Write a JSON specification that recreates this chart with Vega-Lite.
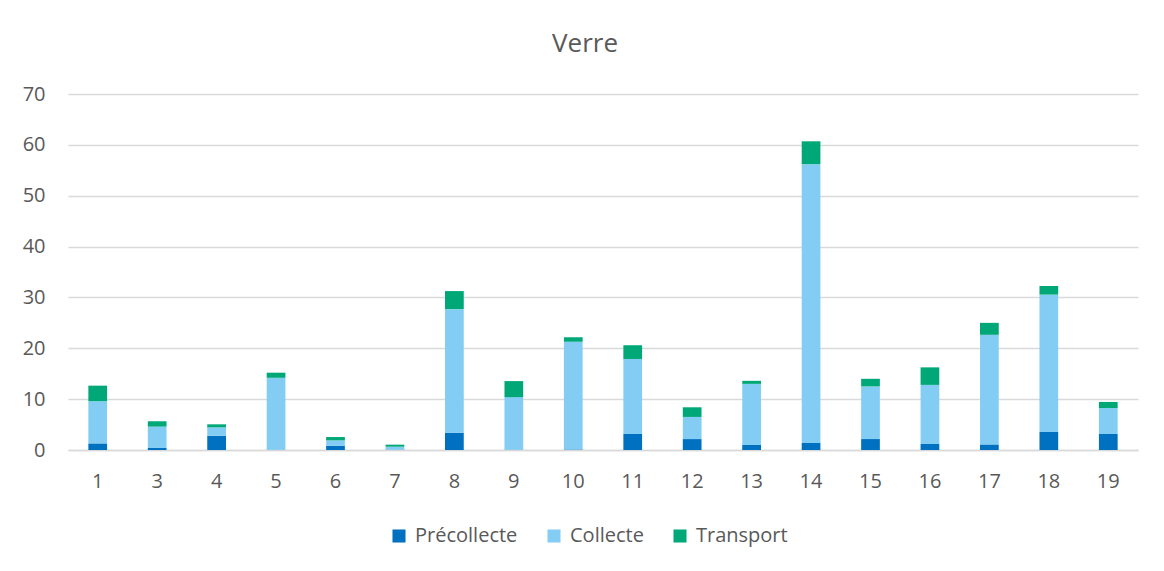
{
  "$schema": "https://vega.github.io/schema/vega-lite/v6.json",
  "autosize": {"type": "none"},
  "width": 1070,
  "height": 356,
  "padding": {"left": 68, "top": 94, "right": 26, "bottom": 121},
  "background": "white",
  "title": {"text": "Verre", "font": "Open Sans", "fontSize": 26, "fontWeight": "normal", "color": "#595959", "offset": 27, "dx": -18},
  "data": {"values": [
    {"n": "1", "s": "Précollecte", "o": 1, "v": 1.3},
    {"n": "1", "s": "Collecte", "o": 2, "v": 8.3},
    {"n": "1", "s": "Transport", "o": 3, "v": 3.05},
    {"n": "3", "s": "Précollecte", "o": 1, "v": 0.4},
    {"n": "3", "s": "Collecte", "o": 2, "v": 4.2},
    {"n": "3", "s": "Transport", "o": 3, "v": 1.05},
    {"n": "4", "s": "Précollecte", "o": 1, "v": 2.8},
    {"n": "4", "s": "Collecte", "o": 2, "v": 1.65},
    {"n": "4", "s": "Transport", "o": 3, "v": 0.6},
    {"n": "5", "s": "Précollecte", "o": 1, "v": 0.05},
    {"n": "5", "s": "Collecte", "o": 2, "v": 14.15},
    {"n": "5", "s": "Transport", "o": 3, "v": 1.0},
    {"n": "6", "s": "Précollecte", "o": 1, "v": 0.85},
    {"n": "6", "s": "Collecte", "o": 2, "v": 1.05},
    {"n": "6", "s": "Transport", "o": 3, "v": 0.65},
    {"n": "7", "s": "Précollecte", "o": 1, "v": 0.05},
    {"n": "7", "s": "Collecte", "o": 2, "v": 0.6},
    {"n": "7", "s": "Transport", "o": 3, "v": 0.4},
    {"n": "8", "s": "Précollecte", "o": 1, "v": 3.4},
    {"n": "8", "s": "Collecte", "o": 2, "v": 24.3},
    {"n": "8", "s": "Transport", "o": 3, "v": 3.55},
    {"n": "9", "s": "Précollecte", "o": 1, "v": 0.05},
    {"n": "9", "s": "Collecte", "o": 2, "v": 10.35},
    {"n": "9", "s": "Transport", "o": 3, "v": 3.15},
    {"n": "10", "s": "Précollecte", "o": 1, "v": 0.1},
    {"n": "10", "s": "Collecte", "o": 2, "v": 21.2},
    {"n": "10", "s": "Transport", "o": 3, "v": 0.85},
    {"n": "11", "s": "Précollecte", "o": 1, "v": 3.15},
    {"n": "11", "s": "Collecte", "o": 2, "v": 14.75},
    {"n": "11", "s": "Transport", "o": 3, "v": 2.7},
    {"n": "12", "s": "Précollecte", "o": 1, "v": 2.15},
    {"n": "12", "s": "Collecte", "o": 2, "v": 4.35},
    {"n": "12", "s": "Transport", "o": 3, "v": 1.9},
    {"n": "13", "s": "Précollecte", "o": 1, "v": 1.0},
    {"n": "13", "s": "Collecte", "o": 2, "v": 12.0},
    {"n": "13", "s": "Transport", "o": 3, "v": 0.6},
    {"n": "14", "s": "Précollecte", "o": 1, "v": 1.4},
    {"n": "14", "s": "Collecte", "o": 2, "v": 54.8},
    {"n": "14", "s": "Transport", "o": 3, "v": 4.5},
    {"n": "15", "s": "Précollecte", "o": 1, "v": 2.15},
    {"n": "15", "s": "Collecte", "o": 2, "v": 10.35},
    {"n": "15", "s": "Transport", "o": 3, "v": 1.5},
    {"n": "16", "s": "Précollecte", "o": 1, "v": 1.2},
    {"n": "16", "s": "Collecte", "o": 2, "v": 11.6},
    {"n": "16", "s": "Transport", "o": 3, "v": 3.45},
    {"n": "17", "s": "Précollecte", "o": 1, "v": 1.1},
    {"n": "17", "s": "Collecte", "o": 2, "v": 21.55},
    {"n": "17", "s": "Transport", "o": 3, "v": 2.35},
    {"n": "18", "s": "Précollecte", "o": 1, "v": 3.55},
    {"n": "18", "s": "Collecte", "o": 2, "v": 27.0},
    {"n": "18", "s": "Transport", "o": 3, "v": 1.7},
    {"n": "19", "s": "Précollecte", "o": 1, "v": 3.15},
    {"n": "19", "s": "Collecte", "o": 2, "v": 5.1},
    {"n": "19", "s": "Transport", "o": 3, "v": 1.2}
  ]},
  "mark": {"type": "bar"},
  "encoding": {
    "x": {
      "field": "n", "type": "ordinal", "sort": null,
      "scale": {"paddingInner": 0.685, "paddingOuter": 0.3425},
      "axis": {"title": null, "labelAngle": 0, "ticks": false, "domainColor": "#D9D9D9", "domainWidth": 1.5, "labelPadding": 21, "labelFont": "Open Sans", "labelFontSize": 20, "labelColor": "#595959"}
    },
    "y": {
      "field": "v", "type": "quantitative", "stack": "zero",
      "scale": {"domain": [0, 70]},
      "axis": {"title": null, "values": [0, 10, 20, 30, 40, 50, 60, 70], "domain": false, "ticks": false, "gridColor": "#D9D9D9", "gridWidth": 1.5, "labelPadding": 23, "labelFont": "Open Sans", "labelFontSize": 20, "labelColor": "#595959"}
    },
    "color": {
      "field": "s", "type": "nominal",
      "scale": {"domain": ["Précollecte", "Collecte", "Transport"], "range": ["#0070C0", "#83CDF5", "#00A877"]},
      "legend": {"title": null, "orient": "none", "direction": "horizontal", "legendX": 321, "legendY": 432, "symbolType": "square", "symbolSize": 170, "symbolStrokeWidth": 0, "labelFont": "Open Sans", "labelFontSize": 20, "labelColor": "#595959", "columnPadding": 26, "labelOffset": 6}
    },
    "order": {"field": "o", "type": "quantitative"}
  },
  "config": {"view": {"stroke": null}}
}
